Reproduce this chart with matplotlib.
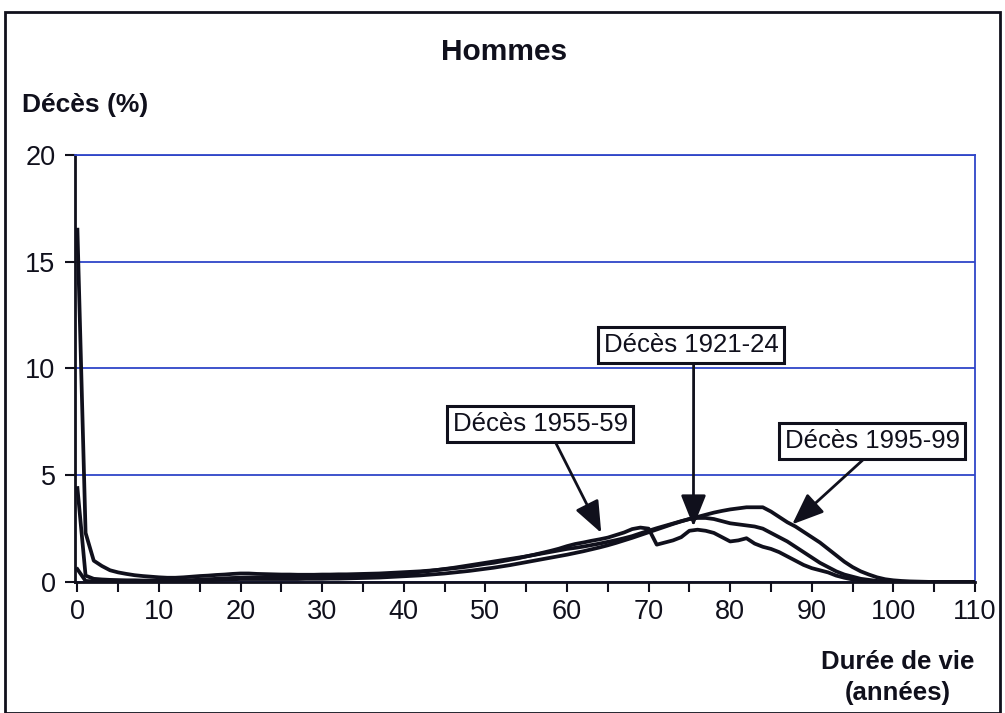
import numpy as np
import matplotlib.pyplot as plt
from matplotlib.patches import Rectangle

plt.rcParams['font.family'] = ['Liberation Sans', 'DejaVu Sans']

ages = list(range(0, 111))

# deaths (%) by age, men
deces_1921 = [16.5, 2.3, 1.0, 0.75, 0.55, 0.45, 0.38, 0.32, 0.28, 0.25,
              0.22, 0.2, 0.2, 0.22, 0.25, 0.28, 0.3, 0.33, 0.35, 0.38,
              0.4, 0.4, 0.38, 0.37, 0.36, 0.35, 0.35, 0.34, 0.34, 0.34,
              0.35, 0.35, 0.36, 0.36, 0.37, 0.38, 0.39, 0.4, 0.42, 0.44,
              0.46, 0.48, 0.5, 0.53, 0.56, 0.6, 0.64, 0.68, 0.73, 0.79,
              0.85, 0.9, 0.97, 1.04, 1.11, 1.2, 1.28, 1.37, 1.46, 1.56,
              1.68, 1.78, 1.85, 1.93, 2.0, 2.08, 2.2, 2.32, 2.48, 2.55,
              2.5, 1.75, 1.85, 1.95, 2.1, 2.4, 2.45, 2.4, 2.3, 2.1,
              1.9, 1.95, 2.05, 1.8, 1.65, 1.55, 1.4, 1.2, 1.0, 0.8,
              0.65, 0.55, 0.45, 0.3, 0.2, 0.12, 0.08, 0.05, 0.03, 0.02,
              0.01, 0, 0, 0, 0, 0, 0, 0, 0, 0, 0]

deces_1955 = [4.4, 0.3, 0.15, 0.12, 0.1, 0.09, 0.08, 0.08, 0.07, 0.07,
              0.07, 0.07, 0.07, 0.08, 0.09, 0.11, 0.13, 0.15, 0.17, 0.19,
              0.2, 0.21, 0.21, 0.21, 0.2, 0.2, 0.2, 0.2, 0.21, 0.21,
              0.22, 0.23, 0.24, 0.25, 0.26, 0.28, 0.3, 0.32, 0.34, 0.37,
              0.4, 0.43, 0.47, 0.51, 0.56, 0.61, 0.66, 0.72, 0.78, 0.84,
              0.9, 0.96, 1.02, 1.08, 1.14, 1.2, 1.27, 1.34, 1.41, 1.48,
              1.55, 1.6, 1.66, 1.73, 1.8, 1.88, 1.96, 2.05, 2.15, 2.28,
              2.4, 2.52, 2.63, 2.74, 2.85, 2.95, 3.0, 3.0, 2.95, 2.85,
              2.75, 2.7, 2.65, 2.6, 2.5, 2.3, 2.1, 1.9, 1.65, 1.4,
              1.15, 0.9, 0.7, 0.5, 0.35, 0.25, 0.15, 0.1, 0.05, 0.03,
              0.01, 0, 0, 0, 0, 0, 0, 0, 0, 0, 0]

deces_1995 = [0.6, 0.05, 0.03, 0.02, 0.02, 0.02, 0.02, 0.02, 0.02, 0.02,
              0.02, 0.02, 0.02, 0.03, 0.04, 0.06, 0.08, 0.1, 0.12, 0.13,
              0.14, 0.14, 0.14, 0.14, 0.14, 0.14, 0.14, 0.14, 0.15, 0.15,
              0.15, 0.16, 0.16, 0.17, 0.18, 0.19, 0.2, 0.21, 0.23, 0.25,
              0.27, 0.29, 0.31, 0.34, 0.37, 0.4, 0.44, 0.48, 0.52, 0.57,
              0.62, 0.67, 0.73, 0.79, 0.86, 0.93, 1.0, 1.07, 1.14, 1.21,
              1.28, 1.36, 1.44, 1.53, 1.62, 1.72, 1.83, 1.95, 2.07, 2.2,
              2.33, 2.46, 2.59, 2.72, 2.84, 2.95, 3.05, 3.15, 3.25, 3.33,
              3.4, 3.45, 3.5, 3.5, 3.5, 3.3, 3.05, 2.8, 2.6, 2.35,
              2.1, 1.85, 1.55, 1.25, 0.95, 0.7, 0.5, 0.35, 0.22, 0.13,
              0.08, 0.05, 0.03, 0.02, 0.01, 0, 0, 0, 0, 0, 0]

blue = '#2f45c8'
ink = '#10101c'

fig = plt.figure(figsize=(10.05, 7.13), dpi=100)
ax = fig.add_axes([0.0746, 0.1837, 0.8955, 0.599])

for serie in [deces_1921, deces_1955, deces_1995]:
    ax.plot(ages, serie, color=ink, lw=2.7, solid_joinstyle='round', zorder=3)

ax.set_xlim(-0.3, 110)
ax.set_ylim(0, 20)
ax.set_xticks(range(0, 111, 10))
ax.set_xticks(range(5, 111, 10), minor=True)
ax.set_yticks(range(0, 21, 5))
ax.tick_params(axis='both', which='both', direction='out', length=7, width=1.5,
               colors=ink, labelsize=19.5)
ax.tick_params(axis='x', which='major', pad=5)
ax.tick_params(axis='y', pad=7)
ax.yaxis.grid(True, color=blue, lw=1.3)
ax.set_axisbelow(True)
for s in ['top', 'right']:
    ax.spines[s].set_color(blue)
    ax.spines[s].set_linewidth(1.3)
for s in ['left', 'bottom']:
    ax.spines[s].set_color(ink)
    ax.spines[s].set_linewidth(2)

box = dict(boxstyle='square,pad=0.22', fc='white', ec=ink, lw=2.2)

def note(txt, xy, xytext, rx):
    ax.annotate(txt, xy=xy, xytext=xytext, fontsize=18.5, color=ink,
                ha='center', va='center', bbox=box, zorder=5,
                arrowprops=dict(arrowstyle='-|>,head_length=1.05,head_width=0.42',
                                color=ink, lw=2, relpos=(rx, 0),
                                shrinkA=0, shrinkB=0))

note('Décès 1921-24', (75.5, 2.6), (75.2, 11.1), 0.515)
note('Décès 1955-59', (64.2, 2.3), (56.7, 7.4), 0.57)
note('Décès 1995-99', (87.6, 2.7), (97.4, 6.6), 0.49)

fig.text(0.502, 0.927, 'Hommes', fontsize=21.5, fontweight='bold', ha='center', va='center', color=ink)
fig.text(0.022, 0.853, 'Décès (%)', fontsize=19, fontweight='bold', ha='left', va='center', color=ink)
fig.text(0.893, 0.05, 'Durée de vie\n(années)', fontsize=18.5, fontweight='bold',
         ha='center', va='center', color=ink, linespacing=1.4)

fig.patches.append(Rectangle((0.005, 0.0), 0.99, 0.983, transform=fig.transFigure,
                             fill=False, ec=ink, lw=2))

fig.savefig('out.png', dpi=100)
